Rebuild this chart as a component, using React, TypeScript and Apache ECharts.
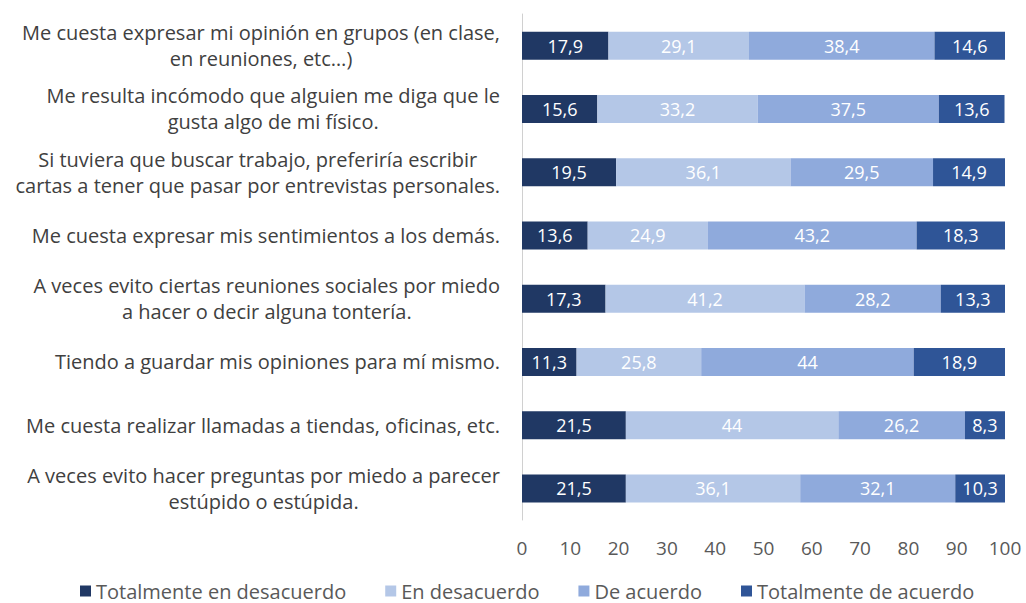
import React, { useEffect, useRef } from "react";
import * as echarts from "echarts";

const categories = [
  "Me cuesta expresar mi opinión en grupos (en clase,\nen reuniones, etc…)",
  "Me resulta incómodo que alguien me diga que le\ngusta algo de mi físico.",
  "Si tuviera que buscar trabajo, preferiría escribir\ncartas a tener que pasar por entrevistas personales.",
  "Me cuesta expresar mis sentimientos a los demás.",
  "A veces evito ciertas reuniones sociales por miedo\na hacer o decir alguna tontería.",
  "Tiendo a guardar mis opiniones para mí mismo.",
  "Me cuesta realizar llamadas a tiendas, oficinas, etc.",
  "A veces evito hacer preguntas por miedo a parecer\nestúpido o estúpida.",
];

const seriesNames = [
  "Totalmente en desacuerdo",
  "En desacuerdo",
  "De acuerdo",
  "Totalmente de acuerdo",
];

const totalmenteDesacuerdo = [17.9, 15.6, 19.5, 13.6, 17.3, 11.3, 21.5, 21.5];
const enDesacuerdo = [29.1, 33.2, 36.1, 24.9, 41.2, 25.8, 44, 36.1];
const deAcuerdo = [38.4, 37.5, 29.5, 43.2, 28.2, 44, 26.2, 32.1];
const totalmenteAcuerdo = [14.6, 13.6, 14.9, 18.3, 13.3, 18.9, 8.3, 10.3];

const seriesData = [totalmenteDesacuerdo, enDesacuerdo, deAcuerdo, totalmenteAcuerdo];
const colors = ["#203864", "#b4c7e7", "#8faadc", "#2f5597"];

const FONT = "'Open Sans', sans-serif";

export default function App() {
  const ref = useRef<HTMLDivElement>(null);
  useEffect(() => {
    if (!ref.current) return;
    const chart = echarts.init(ref.current, undefined, { renderer: "svg" });
    chart.setOption({
      animation: false,
      grid: { left: 522, right: 21, top: 14, bottom: 83, containLabel: false },
      legend: {
        top: 581,
        left: 80,
        padding: 0,
        itemWidth: 11,
        itemHeight: 11,
        itemGap: 39,
        icon: "rect",
        textStyle: { fontFamily: FONT, fontSize: 20, lineHeight: 20, color: "#595959" },
        data: seriesNames,
      },
      xAxis: {
        type: "value",
        min: 0,
        max: 100,
        interval: 10,
        axisLine: { show: false },
        axisTick: { show: false },
        splitLine: { show: false },
        axisLabel: {
          fontFamily: FONT,
          fontSize: 19,
          color: "#595959",
          margin: 18,
        },
      },
      yAxis: {
        type: "category",
        data: categories,
        inverse: true,
        axisLine: { show: true, lineStyle: { color: "#d0d0d0", width: 1 } },
        axisTick: { show: false },
        axisLabel: {
          align: "right",
          margin: 22,
          formatter: (v: string) =>
            v.split("\n").map((l) => `{c|${l}}`).join("\n"),
          rich: {
            c: {
              align: "center",
              fontFamily: FONT,
              fontSize: 20,
              lineHeight: 26,
              color: "#404040",
            },
          },
        },
      },
      series: seriesData.map((d, i) => ({
        name: seriesNames[i],
        type: "bar",
        stack: "total",
        data: d,
        barWidth: 28,
        itemStyle: { color: colors[i] },
        label: {
          show: true,
          position: "inside",
          color: "#ffffff",
          fontFamily: FONT,
          fontSize: 18,
          formatter: (p: any) => String(p.value).replace(".", ","),
        },
      })),
    });
    return () => chart.dispose();
  }, []);
  return (
    <div
      ref={ref}
      style={{ position: "absolute", left: 0, top: 0, width: 1026, height: 603 }}
    />
  );
}
